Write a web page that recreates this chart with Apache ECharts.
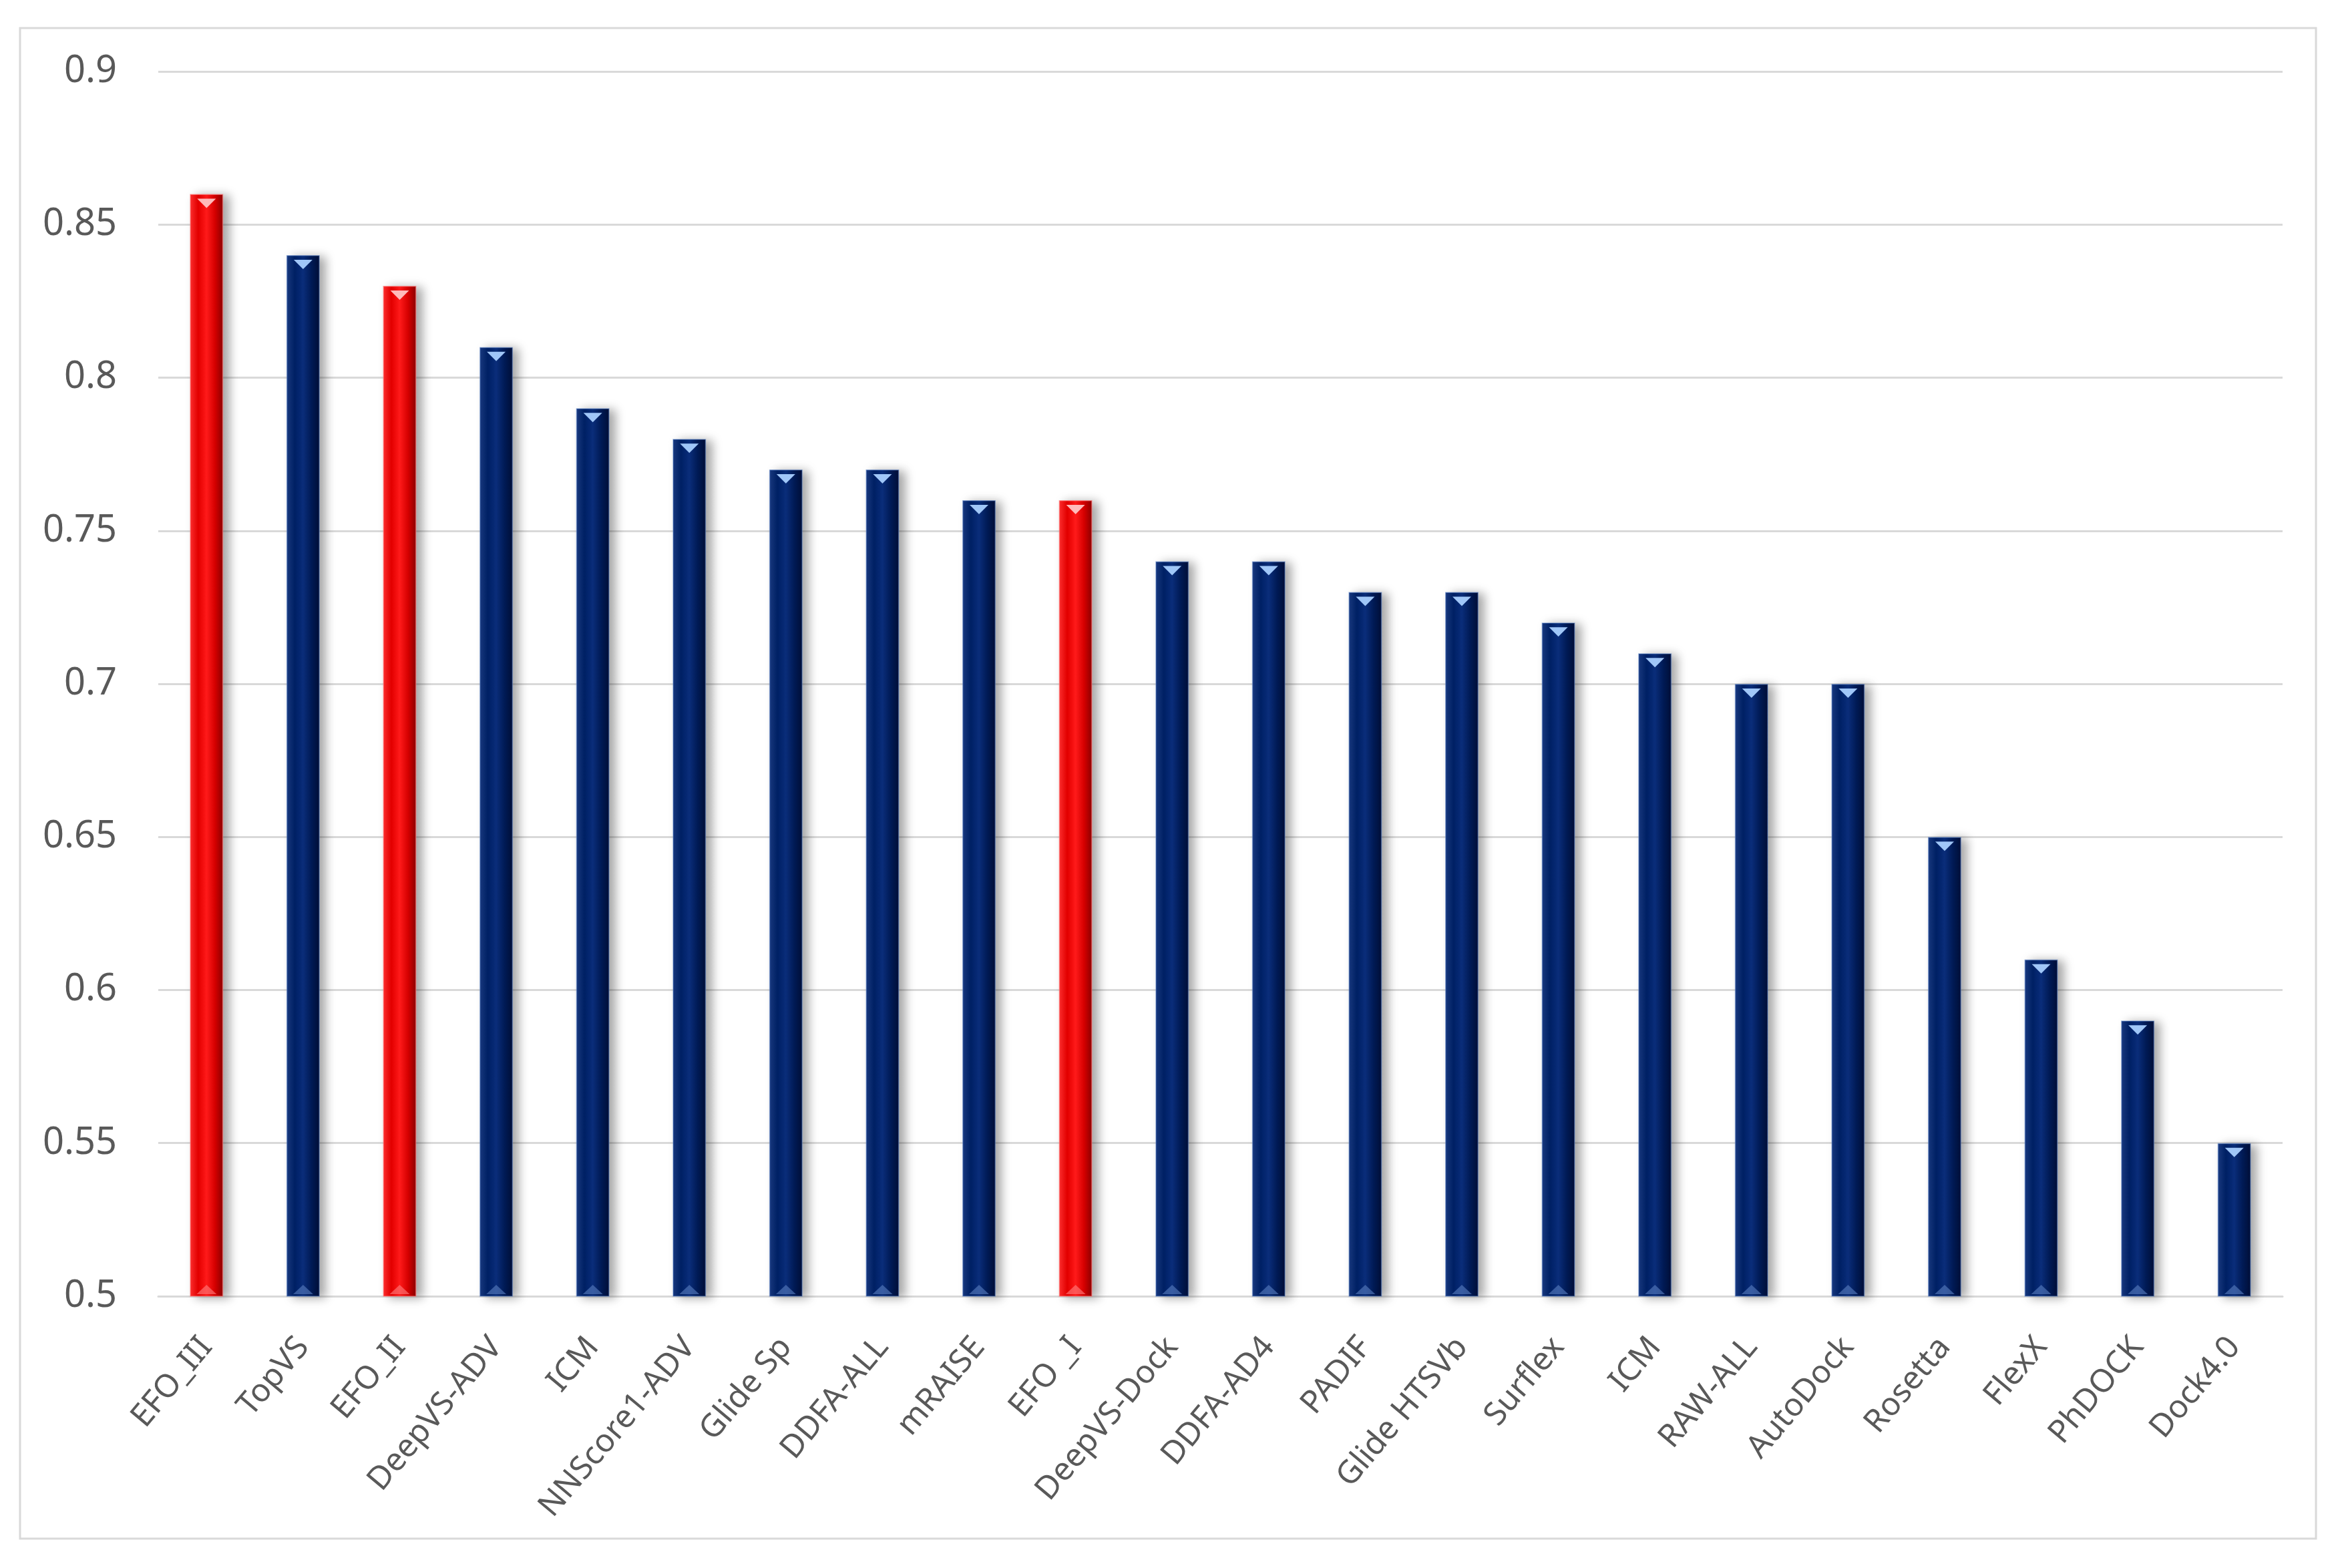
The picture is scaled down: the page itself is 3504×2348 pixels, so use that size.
<!DOCTYPE html>
<html>
<head>
<meta charset="utf-8">
<style>
  html, body { margin: 0; padding: 0; background: #ffffff; }
  #chart { width: 3504px; height: 2348px; }
</style>
<script src="https://cdn.jsdelivr.net/npm/echarts@6/dist/echarts.min.js"></script>
</head>
<body>
<div id="chart"></div>
<script>
const categories = ['EFO_III','TopVS','EFO_II','DeepVS-ADV','ICM','NNScore1-ADV','Glide Sp','DDFA-ALL','mRAISE','EFO _I','DeepVS-Dock','DDFA-AD4','PADIF','Glide HTSVb','Surflex','ICM','RAW-ALL','AutoDock','Rosetta','FlexX','PhDOCK','Dock4.0'];
const values = [0.86,0.84,0.83,0.81,0.79,0.78,0.77,0.77,0.76,0.76,0.74,0.74,0.73,0.73,0.72,0.71,0.70,0.70,0.65,0.61,0.59,0.55];
const highlighted = [true,false,true,false,false,false,false,false,false,true,false,false,false,false,false,false,false,false,false,false,false,false];
const yTicks = { min: 0.5, max: 0.9, interval: 0.05 };

function grad(stops) {
  return new echarts.graphic.LinearGradient(0, 0, 1, 0, stops.map((c, i) => ({ offset: i / (stops.length - 1), color: c })));
}
const blueFill = grad(['#1a3a80', '#002166', '#0a2d7a', '#001a55', '#000e36']);
const redFill = grad(['#ff3030', '#e60000', '#ff1a1a', '#d60000', '#8a0000']);

const chart = echarts.init(document.getElementById('chart'), null, { renderer: 'canvas' });
const font = 'Noto Sans';

chart.setOption({
  backgroundColor: '#ffffff',
  animation: false,
  graphic: [{
    type: 'rect', shape: { x: 30, y: 42, width: 3438, height: 2262 },
    style: { fill: 'none', stroke: '#d9d9d9', lineWidth: 3 }, z: -10
  }],
  grid: { left: 237, right: 86, top: 107, bottom: 407, containLabel: false },
  xAxis: {
    type: 'category',
    data: categories,
    axisLine: { show: true, lineStyle: { color: '#d9d9d9', width: 3 } },
    axisTick: { show: false },
    axisLabel: { interval: 0, rotate: 50, margin: 68, color: '#595959', fontSize: 48, fontFamily: font },
    splitLine: { show: false }
  },
  yAxis: {
    type: 'value',
    min: yTicks.min, max: yTicks.max, interval: yTicks.interval,
    axisLine: { show: false },
    axisTick: { show: false },
    axisLabel: { margin: 62, color: '#595959', fontSize: 56, fontFamily: font,
      formatter: v => String(parseFloat(v.toFixed(2))) },
    splitLine: { lineStyle: { color: '#d9d9d9', width: 3 } }
  },
  series: [
    {
      type: 'bar',
      barWidth: 50,
      data: values.map((v, i) => ({
        value: v,
        itemStyle: {
          color: highlighted[i] ? redFill : blueFill,
          borderColor: highlighted[i] ? 'rgba(255,120,120,0.6)' : 'rgba(90,130,200,0.5)',
          borderWidth: 1.5,
          shadowColor: 'rgba(0,0,0,0.35)',
          shadowBlur: 14,
          shadowOffsetX: 9,
          shadowOffsetY: 2
        }
      })),
      z: 2
    },
    {
      type: 'scatter',
      symbol: 'triangle',
      symbolRotate: 180,
      symbolSize: [28, 14],
      symbolOffset: [0, 14],
      silent: true,
      data: values.map((v, i) => ({
        value: v,
        itemStyle: { color: highlighted[i] ? '#ffc4c4' : '#a9d0ff', opacity: 0.95 }
      })),
      z: 5
    },
    {
      type: 'scatter',
      symbol: 'triangle',
      symbolSize: [30, 14],
      symbolOffset: [0, -10],
      silent: true,
      data: values.map((v, i) => ({
        value: yTicks.min,
        itemStyle: { color: highlighted[i] ? '#ff8080' : '#5a7fc0', opacity: 0.6 }
      })),
      z: 5
    }
  ]
});
</script>
</body>
</html>
